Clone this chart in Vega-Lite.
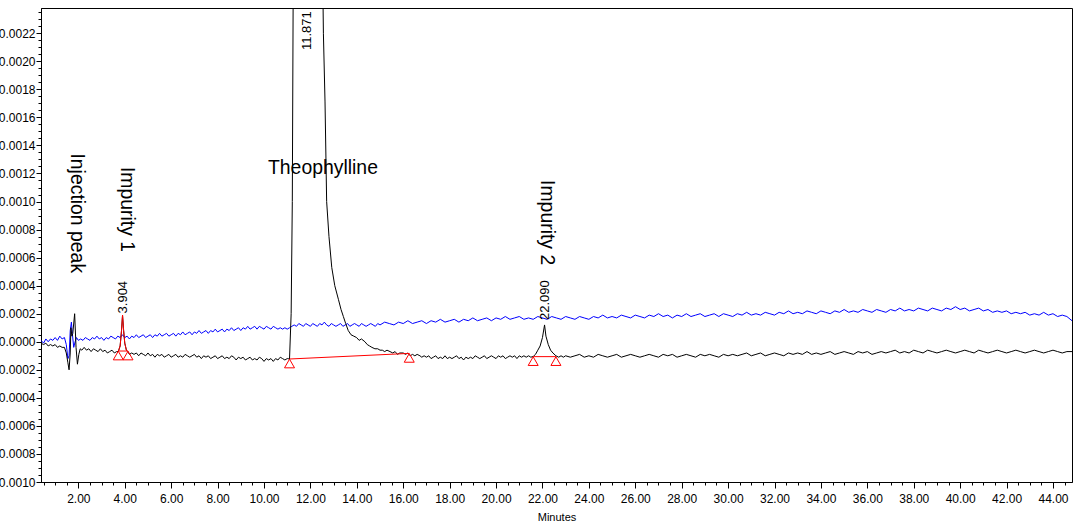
{
"$schema": "https://vega.github.io/schema/vega-lite/v6.json",
"width": 1031, "height": 474,
"autosize": {"type": "none"},
"padding": {"left": 41, "top": 8, "right": 7, "bottom": 44},
"background": "white",
"config": {"view": {"stroke": "#000", "strokeWidth": 1}, "font": "Liberation Sans", "axis": {"domainColor": "#000", "tickColor": "#000", "labelColor": "#000", "titleColor": "#000", "grid": false, "labelFont": "Liberation Sans", "titleFont": "Liberation Sans"}},
"datasets": {
"black": [
{"t":0.39,"v":-0.00001},{"t":0.5,"v":-0.00002},{"t":0.6,"v":-0.00001},{"t":0.7,"v":-0.00003},{"t":0.8,"v":-0.00002},{"t":0.9,"v":-0.00003},{"t":1.0,"v":-0.00002},{"t":1.1,"v":-0.00004},{"t":1.2,"v":-0.00003},{"t":1.3,"v":-0.00004},{"t":1.4,"v":-0.00004},{"t":1.48,"v":-0.00008},{"t":1.55,"v":-0.00015},{"t":1.6,"v":-0.0002},{"t":1.65,"v":-0.00008},{"t":1.68,"v":0.0001},{"t":1.72,"v":0.00004},{"t":1.76,"v":0.00006},{"t":1.84,"v":0.0002},{"t":1.9,"v":-0.00004},{"t":1.96,"v":-0.00016},{"t":2.02,"v":-0.00009},{"t":2.08,"v":-0.00005},{"t":2.15,"v":-0.00006},{"t":2.25,"v":-0.00004},{"t":2.35,"v":-0.00006},{"t":2.45,"v":-0.00005},{"t":2.55,"v":-0.00007},{"t":2.65,"v":-0.00005},{"t":2.75,"v":-0.00006},{"t":2.85,"v":-0.00007},{"t":2.95,"v":-0.00005},{"t":3.05,"v":-0.00007},{"t":3.15,"v":-0.00006},{"t":3.25,"v":-0.00008},{"t":3.35,"v":-0.00007},{"t":3.45,"v":-0.00006},{"t":3.55,"v":-0.00008},{"t":3.65,"v":-0.00007},{"t":3.72,"v":-0.00007},{"t":3.8,"v":-0.00003},{"t":3.86,"v":0.00008},{"t":3.904,"v":0.00019},{"t":3.95,"v":0.00008},{"t":4.0,"v":-0.00001},{"t":4.07,"v":-0.00006},{"t":4.13,"v":-0.00007},{"t":4.2,"v":-0.00009},{"t":4.3,"v":-0.00008},{"t":4.4,"v":-0.00009},{"t":4.5,"v":-0.00008},{"t":4.6,"v":-0.0001},{"t":4.7,"v":-0.00008},{"t":4.8,"v":-0.00009},{"t":4.9,"v":-0.0001},{"t":5.0,"v":-0.00008},{"t":5.1,"v":-0.0001},{"t":5.2,"v":-0.00009},{"t":5.3,"v":-0.00011},{"t":5.4,"v":-0.00009},{"t":5.5,"v":-0.0001},{"t":5.6,"v":-0.00009},{"t":5.7,"v":-0.00011},{"t":5.8,"v":-0.0001},{"t":5.9,"v":-0.00009},{"t":6.0,"v":-0.00011},{"t":6.1,"v":-0.0001},{"t":6.2,"v":-0.00009},{"t":6.3,"v":-0.00011},{"t":6.4,"v":-0.0001},{"t":6.5,"v":-0.00011},{"t":6.6,"v":-0.00009},{"t":6.7,"v":-0.0001},{"t":6.8,"v":-0.00011},{"t":6.9,"v":-0.0001},{"t":7.0,"v":-0.00009},{"t":7.1,"v":-0.00011},{"t":7.2,"v":-0.0001},{"t":7.3,"v":-0.00012},{"t":7.4,"v":-0.0001},{"t":7.5,"v":-0.00011},{"t":7.6,"v":-0.0001},{"t":7.7,"v":-0.00012},{"t":7.8,"v":-0.00011},{"t":7.9,"v":-0.0001},{"t":8.0,"v":-0.00012},{"t":8.1,"v":-0.00011},{"t":8.2,"v":-0.0001},{"t":8.3,"v":-0.00012},{"t":8.4,"v":-0.00011},{"t":8.5,"v":-0.00012},{"t":8.6,"v":-0.0001},{"t":8.7,"v":-0.00011},{"t":8.8,"v":-0.00013},{"t":8.9,"v":-0.00011},{"t":9.0,"v":-0.00012},{"t":9.1,"v":-0.00011},{"t":9.2,"v":-0.00013},{"t":9.3,"v":-0.00012},{"t":9.4,"v":-0.00011},{"t":9.5,"v":-0.00013},{"t":9.6,"v":-0.00012},{"t":9.7,"v":-0.00013},{"t":9.8,"v":-0.00011},{"t":9.9,"v":-0.00012},{"t":10.0,"v":-0.00014},{"t":10.1,"v":-0.00012},{"t":10.2,"v":-0.00013},{"t":10.3,"v":-0.00012},{"t":10.4,"v":-0.00014},{"t":10.5,"v":-0.00012},{"t":10.6,"v":-0.00013},{"t":10.7,"v":-0.00011},{"t":10.8,"v":-0.00012},{"t":10.9,"v":-0.00013},{"t":11.0,"v":-0.00012},{"t":11.1,"v":-0.000123},{"t":11.17,"v":0.0002},{"t":11.22,"v":0.001},{"t":11.27,"v":0.003},{"t":11.871,"v":0.04},{"t":12.5,"v":0.003},{"t":12.56,"v":0.0022},{"t":12.63,"v":0.00171},{"t":12.7,"v":0.001},{"t":12.8,"v":0.00075},{"t":12.92,"v":0.00053},{"t":13.05,"v":0.0004},{"t":13.21,"v":0.0003},{"t":13.32,"v":0.00023},{"t":13.42,"v":0.00018},{"t":13.52,"v":0.00013},{"t":13.63,"v":0.00008},{"t":13.75,"v":0.00005},{"t":13.87,"v":0.00004},{"t":13.99,"v":0.00003},{"t":14.1,"v":0.00001},{"t":14.2,"v":0.00002},{"t":14.35,"v":0.0},{"t":14.45,"v":-0.00002},{"t":14.55,"v":-0.00003},{"t":14.65,"v":-0.00004},{"t":14.78,"v":-0.00005},{"t":14.9,"v":-0.00005},{"t":15.0,"v":-0.00006},{"t":15.1,"v":-0.00006},{"t":15.2,"v":-0.00007},{"t":15.3,"v":-0.00006},{"t":15.43,"v":-0.00007},{"t":15.55,"v":-0.00008},{"t":15.65,"v":-0.00007},{"t":15.75,"v":-0.00009},{"t":15.85,"v":-0.00008},{"t":16.0,"v":-0.00008},{"t":16.1,"v":-0.00009},{"t":16.2,"v":-0.00008},{"t":16.3,"v":-0.0001},{"t":16.4,"v":-0.00009},{"t":16.5,"v":-0.0001},{"t":16.6,"v":-0.00009},{"t":16.72,"v":-0.0001},{"t":16.8,"v":-0.00011},{"t":16.9,"v":-0.0001},{"t":17.0,"v":-0.00011},{"t":17.1,"v":-0.0001},{"t":17.2,"v":-0.00012},{"t":17.3,"v":-0.00011},{"t":17.4,"v":-0.0001},{"t":17.5,"v":-0.00012},{"t":17.6,"v":-0.00011},{"t":17.7,"v":-0.00012},{"t":17.8,"v":-0.0001},{"t":17.9,"v":-0.00012},{"t":18.0,"v":-0.00011},{"t":18.1,"v":-0.00012},{"t":18.2,"v":-0.00011},{"t":18.3,"v":-0.0001},{"t":18.4,"v":-0.00012},{"t":18.5,"v":-0.00011},{"t":18.6,"v":-0.00013},{"t":18.7,"v":-0.00011},{"t":18.8,"v":-0.00012},{"t":18.9,"v":-0.00011},{"t":19.0,"v":-0.00012},{"t":19.1,"v":-0.0001},{"t":19.2,"v":-0.00011},{"t":19.3,"v":-0.00012},{"t":19.4,"v":-0.00011},{"t":19.5,"v":-0.0001},{"t":19.6,"v":-0.00012},{"t":19.7,"v":-0.00011},{"t":19.8,"v":-0.0001},{"t":19.9,"v":-0.00011},{"t":20.0,"v":-0.00012},{"t":20.1,"v":-0.0001},{"t":20.2,"v":-0.00011},{"t":20.3,"v":-0.0001},{"t":20.4,"v":-0.00012},{"t":20.5,"v":-0.00011},{"t":20.6,"v":-0.0001},{"t":20.7,"v":-0.00011},{"t":20.8,"v":-0.0001},{"t":20.9,"v":-0.00012},{"t":21.0,"v":-0.0001},{"t":21.1,"v":-0.00011},{"t":21.2,"v":-0.0001},{"t":21.3,"v":-0.00011},{"t":21.4,"v":-0.0001},{"t":21.5,"v":-0.00011},{"t":21.6,"v":-0.000105},{"t":21.7,"v":-0.00009},{"t":21.8,"v":-0.00006},{"t":21.9,"v":-0.00003},{"t":22.0,"v":0.00003},{"t":22.09,"v":0.00012},{"t":22.15,"v":0.00004},{"t":22.25,"v":-0.00002},{"t":22.35,"v":-0.00006},{"t":22.45,"v":-0.00008},{"t":22.58,"v":-0.0001},{"t":22.7,"v":-0.00011},{"t":22.8,"v":-0.0001},{"t":22.9,"v":-0.00011},{"t":23.0,"v":-0.0001},{"t":23.2,"v":-0.00011},{"t":23.4,"v":-0.0001},{"t":23.6,"v":-0.00009},{"t":23.8,"v":-0.00011},{"t":24.0,"v":-0.0001},{"t":24.2,"v":-0.00011},{"t":24.4,"v":-0.00009},{"t":24.6,"v":-0.0001},{"t":24.8,"v":-0.00011},{"t":25.0,"v":-0.0001},{"t":25.2,"v":-0.00009},{"t":25.4,"v":-0.00011},{"t":25.6,"v":-0.0001},{"t":25.8,"v":-0.00009},{"t":26.0,"v":-0.0001},{"t":26.2,"v":-0.00011},{"t":26.4,"v":-0.0001},{"t":26.6,"v":-0.00009},{"t":26.8,"v":-0.0001},{"t":27.0,"v":-0.00011},{"t":27.2,"v":-0.00009},{"t":27.4,"v":-0.0001},{"t":27.6,"v":-0.00009},{"t":27.8,"v":-0.00011},{"t":28.0,"v":-0.0001},{"t":28.2,"v":-0.00009},{"t":28.4,"v":-0.0001},{"t":28.6,"v":-0.00011},{"t":28.8,"v":-0.00009},{"t":29.0,"v":-0.0001},{"t":29.2,"v":-0.00009},{"t":29.4,"v":-0.0001},{"t":29.6,"v":-0.00011},{"t":29.8,"v":-0.00009},{"t":30.0,"v":-0.0001},{"t":30.2,"v":-0.00009},{"t":30.4,"v":-0.0001},{"t":30.6,"v":-0.00009},{"t":30.8,"v":-0.00008},{"t":31.0,"v":-0.0001},{"t":31.2,"v":-0.00009},{"t":31.4,"v":-0.00008},{"t":31.6,"v":-0.0001},{"t":31.8,"v":-0.00009},{"t":32.0,"v":-0.00008},{"t":32.2,"v":-0.00009},{"t":32.4,"v":-0.0001},{"t":32.6,"v":-0.00008},{"t":32.8,"v":-0.00009},{"t":33.0,"v":-0.00008},{"t":33.2,"v":-0.00009},{"t":33.4,"v":-0.00007},{"t":33.6,"v":-0.00009},{"t":33.8,"v":-0.00008},{"t":34.0,"v":-0.00009},{"t":34.2,"v":-0.00008},{"t":34.4,"v":-0.00007},{"t":34.6,"v":-0.00009},{"t":34.8,"v":-0.00008},{"t":35.0,"v":-0.00007},{"t":35.2,"v":-0.00008},{"t":35.4,"v":-0.00009},{"t":35.6,"v":-0.00007},{"t":35.8,"v":-0.00008},{"t":36.0,"v":-0.00007},{"t":36.2,"v":-0.00009},{"t":36.4,"v":-0.00008},{"t":36.6,"v":-0.00007},{"t":36.8,"v":-0.00008},{"t":37.0,"v":-0.00007},{"t":37.2,"v":-0.00006},{"t":37.4,"v":-0.00008},{"t":37.6,"v":-0.00007},{"t":37.8,"v":-0.00008},{"t":38.0,"v":-0.00006},{"t":38.2,"v":-0.00007},{"t":38.4,"v":-0.00008},{"t":38.6,"v":-0.00006},{"t":38.8,"v":-0.00007},{"t":39.0,"v":-0.00008},{"t":39.2,"v":-0.00007},{"t":39.4,"v":-0.00006},{"t":39.6,"v":-0.00007},{"t":39.8,"v":-0.00008},{"t":40.0,"v":-0.00007},{"t":40.2,"v":-0.00006},{"t":40.4,"v":-0.00007},{"t":40.6,"v":-0.00008},{"t":40.8,"v":-0.00006},{"t":41.0,"v":-0.00007},{"t":41.2,"v":-0.00008},{"t":41.4,"v":-0.00007},{"t":41.6,"v":-0.00006},{"t":41.8,"v":-0.00007},{"t":42.0,"v":-0.00008},{"t":42.2,"v":-0.00007},{"t":42.4,"v":-0.00006},{"t":42.6,"v":-0.00007},{"t":42.8,"v":-0.00008},{"t":43.0,"v":-0.00007},{"t":43.2,"v":-0.00006},{"t":43.4,"v":-0.00007},{"t":43.6,"v":-0.00008},{"t":43.8,"v":-0.00007},{"t":44.0,"v":-0.00006},{"t":44.2,"v":-0.00007},{"t":44.4,"v":-0.00008},{"t":44.6,"v":-0.00007},{"t":44.82,"v":-0.00007}
],
"blue": [
{"t":0.39,"v":0.00001},{"t":0.5,"v":-0.00001},{"t":0.6,"v":0.00002},{"t":0.7,"v":0.0},{"t":0.8,"v":0.00002},{"t":0.9,"v":0.00001},{"t":1.0,"v":0.00003},{"t":1.1,"v":0.00001},{"t":1.2,"v":0.00004},{"t":1.3,"v":0.00002},{"t":1.4,"v":0.00003},{"t":1.48,"v":-0.00002},{"t":1.55,"v":-0.00012},{"t":1.6,"v":-0.0001},{"t":1.65,"v":0.00008},{"t":1.7,"v":0.00014},{"t":1.74,"v":0.00006},{"t":1.8,"v":-0.00004},{"t":1.86,"v":0.0},{"t":1.92,"v":0.00003},{"t":2.0,"v":0.00001},{"t":2.1,"v":0.00002},{"t":2.2,"v":0.00001},{"t":2.3,"v":0.00003},{"t":2.4,"v":0.00002},{"t":2.5,"v":0.00001},{"t":2.6,"v":0.00003},{"t":2.7,"v":0.00002},{"t":2.8,"v":0.00004},{"t":2.9,"v":0.00002},{"t":3.0,"v":0.00003},{"t":3.1,"v":0.00001},{"t":3.2,"v":0.00003},{"t":3.3,"v":0.00002},{"t":3.4,"v":0.00004},{"t":3.5,"v":0.00003},{"t":3.6,"v":0.00002},{"t":3.7,"v":0.00004},{"t":3.8,"v":0.00003},{"t":3.9,"v":0.00005},{"t":4.0,"v":0.00003},{"t":4.1,"v":0.00004},{"t":4.2,"v":0.00002},{"t":4.3,"v":0.00004},{"t":4.4,"v":0.00003},{"t":4.5,"v":0.00005},{"t":4.6,"v":0.00003},{"t":4.7,"v":0.00004},{"t":4.8,"v":0.00005},{"t":4.9,"v":0.00003},{"t":5.0,"v":0.00004},{"t":5.1,"v":0.00005},{"t":5.2,"v":0.00003},{"t":5.3,"v":0.00005},{"t":5.4,"v":0.00004},{"t":5.5,"v":0.00006},{"t":5.6,"v":0.00004},{"t":5.7,"v":0.00005},{"t":5.8,"v":0.00006},{"t":5.9,"v":0.00004},{"t":6.0,"v":0.00005},{"t":6.1,"v":0.00006},{"t":6.2,"v":0.00004},{"t":6.3,"v":0.00006},{"t":6.4,"v":0.00005},{"t":6.5,"v":0.00007},{"t":6.6,"v":0.00005},{"t":6.7,"v":0.00006},{"t":6.8,"v":0.00007},{"t":6.9,"v":0.00005},{"t":7.0,"v":0.00007},{"t":7.1,"v":0.00006},{"t":7.2,"v":0.00008},{"t":7.3,"v":0.00006},{"t":7.4,"v":0.00007},{"t":7.5,"v":0.00008},{"t":7.6,"v":0.00006},{"t":7.7,"v":0.00008},{"t":7.8,"v":0.00007},{"t":7.9,"v":0.00009},{"t":8.0,"v":0.00007},{"t":8.1,"v":0.00008},{"t":8.2,"v":0.00009},{"t":8.3,"v":0.00007},{"t":8.4,"v":0.00009},{"t":8.5,"v":0.00008},{"t":8.6,"v":0.0001},{"t":8.7,"v":0.00008},{"t":8.8,"v":0.00009},{"t":8.9,"v":0.0001},{"t":9.0,"v":0.00008},{"t":9.1,"v":0.0001},{"t":9.2,"v":0.00009},{"t":9.3,"v":0.00011},{"t":9.4,"v":0.00009},{"t":9.5,"v":0.0001},{"t":9.6,"v":0.00011},{"t":9.7,"v":0.00009},{"t":9.8,"v":0.00011},{"t":9.9,"v":0.0001},{"t":10.0,"v":0.00009},{"t":10.1,"v":0.00011},{"t":10.2,"v":0.0001},{"t":10.3,"v":0.00009},{"t":10.4,"v":0.00011},{"t":10.5,"v":0.0001},{"t":10.6,"v":0.00009},{"t":10.7,"v":0.0001},{"t":10.8,"v":0.00009},{"t":10.9,"v":0.0001},{"t":11.0,"v":0.00009},{"t":11.1,"v":0.0001},{"t":11.2,"v":0.00011},{"t":11.3,"v":0.00012},{"t":11.4,"v":0.00011},{"t":11.5,"v":0.00013},{"t":11.6,"v":0.00012},{"t":11.7,"v":0.00011},{"t":11.8,"v":0.00013},{"t":11.9,"v":0.00012},{"t":12.0,"v":0.00011},{"t":12.1,"v":0.00013},{"t":12.2,"v":0.00012},{"t":12.3,"v":0.00011},{"t":12.4,"v":0.00013},{"t":12.5,"v":0.00012},{"t":12.6,"v":0.00014},{"t":12.7,"v":0.00012},{"t":12.8,"v":0.00011},{"t":12.9,"v":0.00013},{"t":13.0,"v":0.00012},{"t":13.1,"v":0.00011},{"t":13.2,"v":0.00012},{"t":13.3,"v":0.00013},{"t":13.4,"v":0.00011},{"t":13.5,"v":0.00012},{"t":13.6,"v":0.00013},{"t":13.7,"v":0.00011},{"t":13.8,"v":0.00012},{"t":13.9,"v":0.00013},{"t":14.0,"v":0.00012},{"t":14.1,"v":0.00011},{"t":14.2,"v":0.00013},{"t":14.3,"v":0.00012},{"t":14.4,"v":0.00011},{"t":14.5,"v":0.00012},{"t":14.6,"v":0.00013},{"t":14.7,"v":0.00012},{"t":14.8,"v":0.00011},{"t":14.9,"v":0.00013},{"t":15.0,"v":0.00012},{"t":15.2,"v":0.00014},{"t":15.4,"v":0.00013},{"t":15.6,"v":0.00012},{"t":15.8,"v":0.00014},{"t":16.0,"v":0.00013},{"t":16.2,"v":0.00015},{"t":16.4,"v":0.00013},{"t":16.6,"v":0.00014},{"t":16.8,"v":0.00015},{"t":17.0,"v":0.00013},{"t":17.2,"v":0.00015},{"t":17.4,"v":0.00014},{"t":17.6,"v":0.00016},{"t":17.8,"v":0.00014},{"t":18.0,"v":0.00015},{"t":18.2,"v":0.00016},{"t":18.4,"v":0.00014},{"t":18.6,"v":0.00016},{"t":18.8,"v":0.00015},{"t":19.0,"v":0.00017},{"t":19.2,"v":0.00015},{"t":19.4,"v":0.00016},{"t":19.6,"v":0.00017},{"t":19.8,"v":0.00015},{"t":20.0,"v":0.00017},{"t":20.2,"v":0.00016},{"t":20.4,"v":0.00018},{"t":20.6,"v":0.00016},{"t":20.8,"v":0.00017},{"t":21.0,"v":0.00018},{"t":21.2,"v":0.00016},{"t":21.4,"v":0.00017},{"t":21.6,"v":0.00016},{"t":21.8,"v":0.00018},{"t":22.0,"v":0.00017},{"t":22.2,"v":0.00016},{"t":22.4,"v":0.00018},{"t":22.6,"v":0.00017},{"t":22.8,"v":0.00016},{"t":23.0,"v":0.00018},{"t":23.2,"v":0.00017},{"t":23.4,"v":0.00016},{"t":23.6,"v":0.00018},{"t":23.8,"v":0.00017},{"t":24.0,"v":0.00016},{"t":24.2,"v":0.00018},{"t":24.4,"v":0.00017},{"t":24.6,"v":0.00019},{"t":24.8,"v":0.00017},{"t":25.0,"v":0.00018},{"t":25.2,"v":0.00017},{"t":25.4,"v":0.00019},{"t":25.6,"v":0.00018},{"t":25.8,"v":0.00017},{"t":26.0,"v":0.00019},{"t":26.2,"v":0.00018},{"t":26.4,"v":0.00017},{"t":26.6,"v":0.00019},{"t":26.8,"v":0.00018},{"t":27.0,"v":0.0002},{"t":27.2,"v":0.00018},{"t":27.4,"v":0.00019},{"t":27.6,"v":0.00017},{"t":27.8,"v":0.00019},{"t":28.0,"v":0.00018},{"t":28.2,"v":0.0002},{"t":28.4,"v":0.00018},{"t":28.6,"v":0.00019},{"t":28.8,"v":0.0002},{"t":29.0,"v":0.00018},{"t":29.2,"v":0.00019},{"t":29.4,"v":0.0002},{"t":29.6,"v":0.00018},{"t":29.8,"v":0.0002},{"t":30.0,"v":0.00019},{"t":30.2,"v":0.00018},{"t":30.4,"v":0.0002},{"t":30.6,"v":0.00019},{"t":30.8,"v":0.00021},{"t":31.0,"v":0.00019},{"t":31.2,"v":0.0002},{"t":31.4,"v":0.00019},{"t":31.6,"v":0.00021},{"t":31.8,"v":0.0002},{"t":32.0,"v":0.00019},{"t":32.2,"v":0.00021},{"t":32.4,"v":0.0002},{"t":32.6,"v":0.00022},{"t":32.8,"v":0.0002},{"t":33.0,"v":0.00021},{"t":33.2,"v":0.0002},{"t":33.4,"v":0.00022},{"t":33.6,"v":0.00021},{"t":33.8,"v":0.0002},{"t":34.0,"v":0.00022},{"t":34.2,"v":0.00021},{"t":34.4,"v":0.0002},{"t":34.6,"v":0.00022},{"t":34.8,"v":0.00021},{"t":35.0,"v":0.00023},{"t":35.2,"v":0.00021},{"t":35.4,"v":0.00022},{"t":35.6,"v":0.00021},{"t":35.8,"v":0.00023},{"t":36.0,"v":0.00022},{"t":36.2,"v":0.00021},{"t":36.4,"v":0.00023},{"t":36.6,"v":0.00022},{"t":36.8,"v":0.00021},{"t":37.0,"v":0.00023},{"t":37.2,"v":0.00022},{"t":37.4,"v":0.00024},{"t":37.6,"v":0.00022},{"t":37.8,"v":0.00023},{"t":38.0,"v":0.00022},{"t":38.2,"v":0.00024},{"t":38.4,"v":0.00023},{"t":38.6,"v":0.00022},{"t":38.8,"v":0.00024},{"t":39.0,"v":0.00023},{"t":39.2,"v":0.00022},{"t":39.4,"v":0.00024},{"t":39.6,"v":0.00023},{"t":39.8,"v":0.00025},{"t":40.0,"v":0.00023},{"t":40.2,"v":0.00024},{"t":40.4,"v":0.00022},{"t":40.6,"v":0.00023},{"t":40.8,"v":0.00024},{"t":41.0,"v":0.00022},{"t":41.2,"v":0.00023},{"t":41.4,"v":0.00021},{"t":41.6,"v":0.00022},{"t":41.8,"v":0.00021},{"t":42.0,"v":0.00022},{"t":42.2,"v":0.0002},{"t":42.4,"v":0.00021},{"t":42.6,"v":0.0002},{"t":42.8,"v":0.00021},{"t":43.0,"v":0.00019},{"t":43.2,"v":0.0002},{"t":43.4,"v":0.00019},{"t":43.6,"v":0.00021},{"t":43.8,"v":0.00019},{"t":44.0,"v":0.0002},{"t":44.2,"v":0.00018},{"t":44.4,"v":0.00019},{"t":44.6,"v":0.00018},{"t":44.82,"v":0.00015}
],
"imp1": [
{"t":3.72,"v":-0.00007},{"t":3.8,"v":-0.00003},{"t":3.86,"v":0.00008},{"t":3.904,"v":0.00019},{"t":3.95,"v":0.00008},{"t":4.0,"v":-0.00001},{"t":4.07,"v":-0.00006},{"t":4.13,"v":-0.00007}
],
"base": [
{"seg":"a","t":3.72,"v":-0.000066},{"seg":"a","t":4.14,"v":-0.000066},
{"seg":"b","t":11.1,"v":-0.000123},{"seg":"b","t":16.26,"v":-0.000083},
{"seg":"c","t":21.6,"v":-0.000106},{"seg":"c","t":22.58,"v":-0.000106}
],
"names": [
{"label":"Injection peak","t":1.95,"v":0.001343},
{"label":"Impurity 1","t":4.08,"v":0.001247},
{"label":"Impurity 2","t":22.19,"v":0.001153}
],
"rts": [
{"label":"3.904","t":3.904,"v":0.000202},
{"label":"11.871","t":11.871,"v":0.00208},
{"label":"22.090","t":22.09,"v":0.000155}
],
"title": [{"label":"Theophylline","t":12.54,"v":0.001239}]
},
"resolve": {"axis": {"x": "independent", "y": "independent"}},
"layer": [
{
"data": {"name": "blue"},
"mark": {"type": "line", "color": "#0000ff", "strokeWidth": 1, "clip": true},
"encoding": {
"x": {"field": "t", "type": "quantitative", "scale": {"domain": [0.39, 44.82], "nice": false, "zero": false},
"axis": {"orient": "bottom", "values": [0.5,1,1.5,2,2.5,3,3.5,4,4.5,5,5.5,6,6.5,7,7.5,8,8.5,9,9.5,10,10.5,11,11.5,12,12.5,13,13.5,14,14.5,15,15.5,16,16.5,17,17.5,18,18.5,19,19.5,20,20.5,21,21.5,22,22.5,23,23.5,24,24.5,25,25.5,26,26.5,27,27.5,28,28.5,29,29.5,30,30.5,31,31.5,32,32.5,33,33.5,34,34.5,35,35.5,36,36.5,37,37.5,38,38.5,39,39.5,40,40.5,41,41.5,42,42.5,43,43.5,44,44.5], "labels": false, "tickSize": 3, "domain": false, "title": null}},
"y": {"field": "v", "type": "quantitative", "scale": {"domain": [-0.001, 0.00238], "nice": false, "zero": false},
"axis": {"orient": "left", "values": [-0.001,-0.00095,-0.0009,-0.00085,-0.0008,-0.00075,-0.0007,-0.00065,-0.0006,-0.00055,-0.0005,-0.00045,-0.0004,-0.00035,-0.0003,-0.00025,-0.0002,-0.00015,-0.0001,-0.00005,0,0.00005,0.0001,0.00015,0.0002,0.00025,0.0003,0.00035,0.0004,0.00045,0.0005,0.00055,0.0006,0.00065,0.0007,0.00075,0.0008,0.00085,0.0009,0.00095,0.001,0.00105,0.0011,0.00115,0.0012,0.00125,0.0013,0.00135,0.0014,0.00145,0.0015,0.00155,0.0016,0.00165,0.0017,0.00175,0.0018,0.00185,0.0019,0.00195,0.002,0.00205,0.0021,0.00215,0.0022,0.00225,0.0023,0.00235], "labels": false, "tickSize": 3, "domain": false, "title": null}}
}
},
{
"data": {"name": "black"},
"mark": {"type": "line", "color": "#000000", "strokeWidth": 1, "clip": true},
"encoding": {
"x": {"field": "t", "type": "quantitative", "axis": {"orient": "bottom", "values": [2,4,6,8,10,12,14,16,18,20,22,24,26,28,30,32,34,36,38,40,42,44], "format": ".2f", "tickSize": 6, "labelFontSize": 12, "labelPadding": 5, "title": "Minutes", "titleFontSize": 11, "titleFontWeight": "normal", "titlePadding": 7}},
"y": {"field": "v", "type": "quantitative", "axis": {"orient": "left", "values": [-0.001,-0.0008,-0.0006,-0.0004,-0.0002,0,0.0002,0.0004,0.0006,0.0008,0.001,0.0012,0.0014,0.0016,0.0018,0.002,0.0022], "format": ".4f", "tickSize": 5, "labelFontSize": 12, "labelPadding": 1, "title": null}}
}
},
{
"data": {"name": "imp1"},
"mark": {"type": "line", "color": "#ff0000", "strokeWidth": 1, "clip": true},
"encoding": {"x": {"field": "t", "type": "quantitative", "axis": null}, "y": {"field": "v", "type": "quantitative", "axis": null}}
},
{
"data": {"name": "base"},
"mark": {"type": "line", "color": "#ff0000", "strokeWidth": 1, "clip": true},
"encoding": {"x": {"field": "t", "type": "quantitative", "axis": null}, "y": {"field": "v", "type": "quantitative", "axis": null}, "detail": {"field": "seg"}}
},
{
"data": {"name": "base"},
"mark": {"type": "point", "shape": "triangle-up", "size": 100, "filled": false, "color": "#ff0000", "strokeWidth": 1, "yOffset": 4.5, "opacity": 1},
"encoding": {"x": {"field": "t", "type": "quantitative", "axis": null}, "y": {"field": "v", "type": "quantitative", "axis": null}}
},
{
"data": {"name": "names"},
"mark": {"type": "text", "angle": 90, "align": "left", "baseline": "middle", "fontSize": 19.4, "font": "Liberation Sans", "color": "#000"},
"encoding": {"x": {"field": "t", "type": "quantitative", "axis": null}, "y": {"field": "v", "type": "quantitative", "axis": null}, "text": {"field": "label"}}
},
{
"data": {"name": "rts"},
"mark": {"type": "text", "angle": 270, "align": "left", "baseline": "middle", "fontSize": 13, "font": "Liberation Sans", "color": "#000"},
"encoding": {"x": {"field": "t", "type": "quantitative", "axis": null}, "y": {"field": "v", "type": "quantitative", "axis": null}, "text": {"field": "label"}}
},
{
"data": {"name": "title"},
"mark": {"type": "text", "align": "center", "baseline": "middle", "fontSize": 19.4, "font": "Liberation Sans", "color": "#000"},
"encoding": {"x": {"field": "t", "type": "quantitative", "axis": null}, "y": {"field": "v", "type": "quantitative", "axis": null}, "text": {"field": "label"}}
}
]
}
